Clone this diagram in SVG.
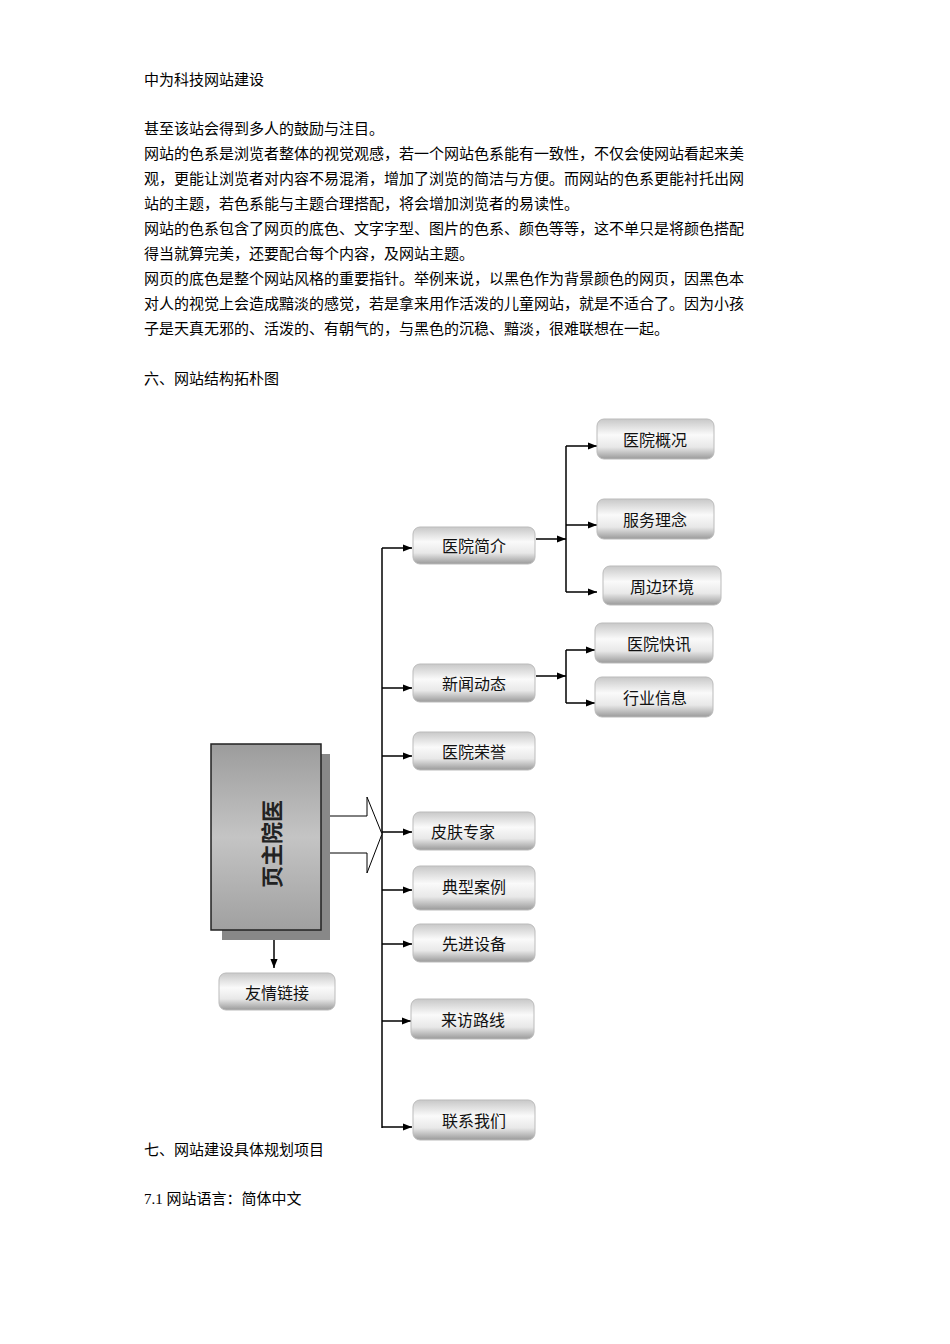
<svg xmlns="http://www.w3.org/2000/svg" width="950" height="1344" viewBox="0 0 950 1344">
<style>
.t{font-family:"Liberation Serif","Noto Sans CJK SC",serif;font-size:15px;fill:#000}
.b{font-family:"Noto Sans CJK SC",sans-serif;font-size:16px;fill:#111;text-anchor:middle}
.bx{fill:url(#g);stroke:#bbb;stroke-width:1}
.c{stroke:#000;stroke-width:1.5;fill:none}
</style>
<defs>
<linearGradient id="g" x1="0" y1="0" x2="0" y2="1">
<stop offset="0" stop-color="#c8c8c8"/><stop offset="0.4" stop-color="#fafafa"/><stop offset="0.7" stop-color="#e8e8e8"/><stop offset="1" stop-color="#9a9a9a"/>
</linearGradient>
<linearGradient id="m" x1="0" y1="0" x2="0" y2="1">
<stop offset="0" stop-color="#9c9c9c"/><stop offset="0.5" stop-color="#c4c4c4"/><stop offset="1" stop-color="#a0a0a0"/>
</linearGradient>
<marker id="a" viewBox="0 0 10 10" refX="10" refY="5" markerWidth="6" markerHeight="6" orient="auto"><path d="M0,1L10,5L0,9z" fill="#000"/></marker>
</defs>
<rect width="950" height="1344" fill="#fff"/>
<text class="t" x="144" y="85">中为科技网站建设</text>
<text class="t" x="144" y="134">甚至该站会得到多人的鼓励与注目。</text>
<text class="t" x="144" y="159">网站的色系是浏览者整体的视觉观感，若一个网站色系能有一致性，不仅会使网站看起来美</text>
<text class="t" x="144" y="184">观，更能让浏览者对内容不易混淆，增加了浏览的简洁与方便。而网站的色系更能衬托出网</text>
<text class="t" x="144" y="209">站的主题，若色系能与主题合理搭配，将会增加浏览者的易读性。</text>
<text class="t" x="144" y="234">网站的色系包含了网页的底色、文字字型、图片的色系、颜色等等，这不单只是将颜色搭配</text>
<text class="t" x="144" y="259">得当就算完美，还要配合每个内容，及网站主题。</text>
<text class="t" x="144" y="284">网页的底色是整个网站风格的重要指针。举例来说，以黑色作为背景颜色的网页，因黑色本</text>
<text class="t" x="144" y="309">对人的视觉上会造成黯淡的感觉，若是拿来用作活泼的儿童网站，就是不适合了。因为小孩</text>
<text class="t" x="144" y="334">子是天真无邪的、活泼的、有朝气的，与黑色的沉稳、黯淡，很难联想在一起。</text>
<text class="t" x="144" y="384">六、网站结构拓朴图</text>
<text class="t" x="144" y="1155">七、网站建设具体规划项目</text>
<text class="t" x="144" y="1204">7.1 网站语言：简体中文</text>
<g id="connectors">
<path class="c" d="M382,548V1128"/>
<path class="c" marker-end="url(#a)" d="M382,548H412"/>
<path class="c" marker-end="url(#a)" d="M382,688H412"/>
<path class="c" marker-end="url(#a)" d="M382,756H412"/>
<path class="c" marker-end="url(#a)" d="M382,832H412"/>
<path class="c" marker-end="url(#a)" d="M382,890H412"/>
<path class="c" marker-end="url(#a)" d="M382,944H412"/>
<path class="c" marker-end="url(#a)" d="M382,1021H411"/>
<path class="c" marker-end="url(#a)" d="M382,1127H412"/>
<path class="c" marker-end="url(#a)" d="M536,539H566"/>
<path class="c" d="M566,446V592"/>
<path class="c" marker-end="url(#a)" d="M566,446H597"/>
<path class="c" marker-end="url(#a)" d="M566,525H597"/>
<path class="c" marker-end="url(#a)" d="M566,592H597"/>
<path class="c" marker-end="url(#a)" d="M536,676H566"/>
<path class="c" d="M566,650V703"/>
<path class="c" marker-end="url(#a)" d="M566,650H595"/>
<path class="c" marker-end="url(#a)" d="M566,703H595"/>
<path class="c" marker-end="url(#a)" d="M274,930V968"/>
<path d="M321,816H367V797L382,834L367,873V853H321" fill="#fff" stroke="#000" stroke-width="1"/>
</g>
<g id="main">
<rect x="222" y="754" width="108" height="186" fill="#888"/>
<rect x="211" y="744" width="110" height="186" fill="url(#m)" stroke="#222" stroke-width="1.5"/>
<text transform="translate(270,844) rotate(-90)" font-family="Noto Sans CJK SC,sans-serif" font-size="22" font-weight="bold" text-anchor="middle" dominant-baseline="central" fill="#222">页主院医</text>
</g>
<g id="n1"><rect class="bx" x="413" y="527" width="122" height="37" rx="7"/><text class="b" x="474" y="552">医院简介</text></g>
<g id="n2"><rect class="bx" x="413" y="664" width="122" height="38" rx="7"/><text class="b" x="474" y="690">新闻动态</text></g>
<g id="n3"><rect class="bx" x="413" y="732" width="122" height="38" rx="7"/><text class="b" x="474" y="758">医院荣誉</text></g>
<g id="n4"><rect class="bx" x="413" y="812" width="122" height="38" rx="7"/><text class="b" x="463" y="838">皮肤专家</text></g>
<g id="n5"><rect class="bx" x="413" y="866" width="122" height="44" rx="7"/><text class="b" x="474" y="893">典型案例</text></g>
<g id="n6"><rect class="bx" x="413" y="924" width="122" height="38" rx="7"/><text class="b" x="474" y="950">先进设备</text></g>
<g id="n7"><rect class="bx" x="411" y="999" width="123" height="40" rx="7"/><text class="b" x="473" y="1026">来访路线</text></g>
<g id="n8"><rect class="bx" x="413" y="1100" width="122" height="40" rx="7"/><text class="b" x="474" y="1127">联系我们</text></g>
<g id="s1"><rect class="bx" x="597" y="419" width="117" height="40" rx="7"/><text class="b" x="655" y="446">医院概况</text></g>
<g id="s2"><rect class="bx" x="597" y="499" width="117" height="40" rx="7"/><text class="b" x="655" y="526">服务理念</text></g>
<g id="s3"><rect class="bx" x="603" y="566" width="118" height="39" rx="7"/><text class="b" x="662" y="593">周边环境</text></g>
<g id="s4"><rect class="bx" x="595" y="623" width="118" height="40" rx="7"/><text class="b" x="659" y="650">医院快讯</text></g>
<g id="s5"><rect class="bx" x="595" y="677" width="118" height="40" rx="7"/><text class="b" x="655" y="704">行业信息</text></g>
<g id="f"><rect class="bx" x="219" y="973" width="116" height="37" rx="7"/><text class="b" x="277" y="999">友情链接</text></g>
</svg>
